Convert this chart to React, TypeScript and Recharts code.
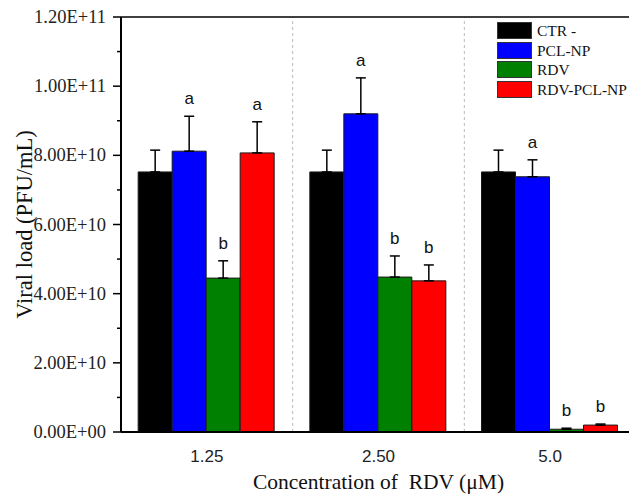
import {
  Bar,
  ComposedChart,
  ErrorBar,
  LabelList,
  Legend,
  ReferenceLine,
  XAxis,
  YAxis,
} from 'recharts';

// concentrations of RDV (µM)
const categories = ['1.25', '2.50', '5.0'];

// viral load (PFU/mL), mean and upper SD per group
const ctrValues = [7.52e10, 7.52e10, 7.52e10];
const ctrErrors = [6.3e9, 6.3e9, 6.3e9];
const pclValues = [8.12e10, 9.2e10, 7.38e10];
const pclErrors = [1.01e10, 1.04e10, 4.9e9];
const rdvValues = [4.45e10, 4.48e10, 8e8];
const rdvErrors = [5e9, 6.1e9, 3e8];
const rdvPclValues = [8.07e10, 4.37e10, 2.0e9];
const rdvPclErrors = [9e9, 4.6e9, 3e8];

// significance letters
const ctrLetters = ['', '', ''];
const pclLetters = ['a', 'a', 'a'];
const rdvLetters = ['b', 'b', 'b'];
const rdvPclLetters = ['a', 'b', 'b'];

// every 1E+10, labelled every 2E+10
const yTicks = [0, 1e10, 2e10, 3e10, 4e10, 5e10, 6e10, 7e10, 8e10, 9e10, 1e11, 1.1e11, 1.2e11];

const series = [
  { key: 'ctr', name: 'CTR -', color: '#000000', values: ctrValues, errors: ctrErrors, letters: ctrLetters },
  { key: 'pcl', name: 'PCL-NP', color: '#0000ff', values: pclValues, errors: pclErrors, letters: pclLetters },
  { key: 'rdv', name: 'RDV', color: '#008000', values: rdvValues, errors: rdvErrors, letters: rdvLetters },
  { key: 'rdvPcl', name: 'RDV-PCL-NP', color: '#ff0000', values: rdvPclValues, errors: rdvPclErrors, letters: rdvPclLetters },
];

const data = categories.map((c, i) => {
  const row: Record<string, any> = { name: c, pos: i + 0.5 };
  series.forEach((s) => {
    row[s.key] = s.values[i];
    row[`${s.key}Err`] = [0, s.errors[i]];
  });
  return row;
});

const SERIF = '"Times New Roman", "Liberation Serif", serif';
const SANS = '"Liberation Sans", Arial, sans-serif';

function sci(v: number) {
  if (v === 0) return '0.00E+00';
  const [m, e] = v.toExponential(2).split('e');
  const exp = parseInt(e, 10);
  return `${m}E${exp < 0 ? '-' : '+'}${String(Math.abs(exp)).padStart(2, '0')}`;
}

// major ticks carry a label, minor ones are only a short mark
function YTick(props: any) {
  const { x, y, index, payload } = props;
  const major = index % 2 === 0;
  return (
    <g>
      <line x1={x - (major ? 8 : 4)} x2={x} y1={y} y2={y} stroke="#000" strokeWidth={1.5} />
      {major && (
        <text
          x={x - 15}
          y={y}
          textAnchor="end"
          dominantBaseline="central"
          style={{ fontFamily: SERIF, fontSize: 18.5, fill: '#222' }}
        >
          {sci(payload.value)}
        </text>
      )}
    </g>
  );
}

function makeLetter(values: number[], errors: number[], letters: string[]) {
  return (props: any) => {
    const { x, y, width, height, index } = props;
    const letter = letters[index];
    if (!letter) return null;
    // pixels per unit taken from the bar's own geometry
    const top = y - (errors[index] * height) / values[index];
    return (
      <text
        x={x + width / 2}
        y={top - 12}
        textAnchor="middle"
        style={{ fontFamily: SANS, fontSize: 17, fill: '#111' }}
      >
        {letter}
      </text>
    );
  };
}

function LegendBox() {
  return (
    <div style={{ fontFamily: SERIF, fontSize: 15.5, color: '#111' }}>
      {series.map((s) => (
        <div key={s.key} style={{ display: 'flex', alignItems: 'center', height: 17, marginBottom: 2.5 }}>
          <div
            style={{
              width: 33,
              height: 15,
              background: s.color,
              border: '1px solid #333',
              marginRight: 5,
            }}
          />
          <span style={{ lineHeight: '17px', whiteSpace: 'nowrap' }}>{s.name}</span>
        </div>
      ))}
    </div>
  );
}

export default function App() {
  return (
    <div
      style={{
        position: 'fixed',
        left: 0,
        top: 0,
        width: 629,
        height: 494,
        overflow: 'hidden',
        background: '#fff',
      }}
    >
      <ComposedChart
        width={640}
        height={494}
        data={data}
        margin={{ top: 17, right: 4, left: 0, bottom: 0 }}
        barCategoryGap="10%"
        barGap={0}
      >
        <XAxis
          dataKey="name"
          height={62}
          axisLine={{ stroke: '#000', strokeWidth: 2 }}
          tickLine={false}
          tickSize={0}
          tickMargin={18}
          tick={{ fontFamily: SANS, fontSize: 17, fill: '#222' }}
          label={{
            value: 'Concentration of \u00a0RDV (\u03bcM)',
            position: 'insideBottom',
            offset: 5,
            style: { fontFamily: SERIF, fontSize: 21.5, fill: '#111' },
          }}
        />
        <XAxis xAxisId="groups" type="number" dataKey="pos" domain={[0, 3]} hide />
        <YAxis
          width={121}
          domain={[0, 1.2e11]}
          ticks={yTicks}
          interval={0}
          tickSize={0}
          tickMargin={0}
          tickLine={false}
          axisLine={{ stroke: '#000', strokeWidth: 2 }}
          tick={<YTick />}
          label={{
            content: ({ viewBox }: any) => (
              <text
                x={viewBox.x + 24}
                y={viewBox.y + viewBox.height / 2}
                transform={`rotate(-90, ${viewBox.x + 24}, ${viewBox.y + viewBox.height / 2})`}
                textAnchor="middle"
                dominantBaseline="central"
                style={{ fontFamily: SERIF, fontSize: 22.5, fill: '#111' }}
              >
                Viral load (PFU/mL)
              </text>
            ),
          }}
        />
        <ReferenceLine xAxisId="groups" x={1} stroke="#bbb" strokeDasharray="3 3" />
        <ReferenceLine xAxisId="groups" x={2} stroke="#bbb" strokeDasharray="3 3" />
        <ReferenceLine y={1.2e11} stroke="#000" strokeWidth={1.5} />
        <Legend
          layout="vertical"
          align="center"
          verticalAlign="middle"
          content={() => <LegendBox />}
          wrapperStyle={{ top: 22, left: 497, width: 140 }}
        />
        {series.map((s) => (
          <Bar
            key={s.key}
            dataKey={s.key}
            name={s.name}
            fill={s.color}
            stroke="#1a1a1a"
            strokeWidth={1}
            isAnimationActive={false}
          >
            <ErrorBar dataKey={`${s.key}Err`} width={5} stroke="#000" strokeWidth={1.5} direction="y" />
            <LabelList content={makeLetter(s.values, s.errors, s.letters)} />
          </Bar>
        ))}
      </ComposedChart>
    </div>
  );
}
